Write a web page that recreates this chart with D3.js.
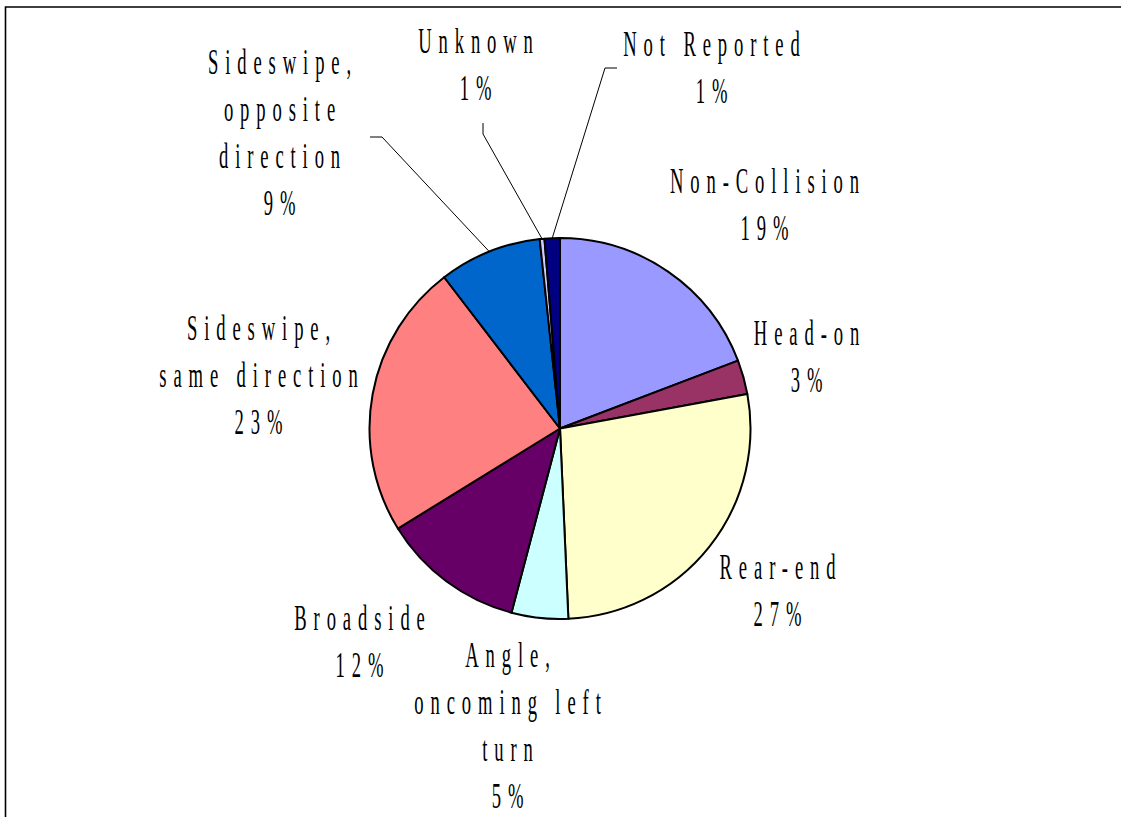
<!DOCTYPE html>
<html>
<head>
<meta charset="utf-8">
<script src="https://cdn.jsdelivr.net/npm/d3@7"></script>
<style>
  html, body { margin: 0; padding: 0; background: #fff; }
  svg { display: block; }
</style>
</head>
<body>
<svg id="chart" width="1121" height="817"></svg>
<script>
// ---- Data ----
const categories = ["Non-Collision", "Head-on", "Rear-end", "Angle, oncoming left turn", "Broadside",
  "Sideswipe, same direction", "Sideswipe, opposite direction", "Unknown", "Not Reported"];
const values = [19.2, 2.9, 27.2, 4.8, 12.1, 23.4, 8.7, 0.4, 1.3];
const percentLabels = ["19%", "3%", "27%", "5%", "12%", "23%", "9%", "1%", "1%"];
const labelLines = [
  ["Non-Collision"], ["Head-on"], ["Rear-end"], ["Angle,", "oncoming left", "turn"], ["Broadside"],
  ["Sideswipe,", "same direction"], ["Sideswipe,", "opposite", "direction"], ["Unknown"], ["Not Reported"]
];
const colors = ["#9999ff", "#993366", "#ffffcc", "#ccffff", "#660066", "#ff8080", "#0066cc", "#ccccff", "#000080"];

// ---- Layout (label placement) ----
const labelPos = [
  {x: 768, y: 193}, {x: 810, y: 345}, {x: 781, y: 579}, {x: 511, y: 667}, {x: 363, y: 630},
  {x: 262, y: 340}, {x: 283, y: 74}, {x: 479, y: 53}, {x: 715, y: 56}
];
// leader line starting points (near label), for the slices that have one
const leaders = {
  6: [[370, 137], [382, 137]],
  7: [[483, 123], [483, 134]],
  8: [[617, 68], [605, 68]]
};

const W = 1121, H = 817;
const cx = 560, cy = 428.5, R = 190.5;
const fontSize = 36.5, lineH = 47, sx = 0.51, spacing = 13.5;

const svg = d3.select("#chart");

// frame
svg.append("path")
  .attr("d", `M5.5,${H} L5.5,7 L${W},7`)
  .attr("fill", "none").attr("stroke", "#000").attr("stroke-width", 1.6);

const data = categories.map((c, i) => ({name: c, value: values[i], i}));
const pie = d3.pie().sort(null).value(d => d.value);
const arcs = pie(data);
const arc = d3.arc().innerRadius(0).outerRadius(R);
const edgeArc = d3.arc().innerRadius(R).outerRadius(R);

const g = svg.append("g").attr("transform", `translate(${cx},${cy})`);
g.selectAll("path.slice").data(arcs).enter().append("path")
  .attr("class", "slice")
  .attr("d", arc)
  .attr("fill", d => colors[d.data.i])
  .attr("stroke", "#000").attr("stroke-width", 2).attr("stroke-linejoin", "round");

// leader lines
const line = d3.line();
Object.keys(leaders).forEach(k => {
  const a = arcs[+k];
  const c = edgeArc.centroid(a);
  const pts = leaders[k].concat([[cx + c[0], cy + c[1]]]);
  svg.append("path").attr("d", line(pts))
    .attr("fill", "none").attr("stroke", "#000").attr("stroke-width", 1);
});

// labels
data.forEach((d, i) => {
  const lines = labelLines[i].concat([percentLabels[i]]);
  const p = labelPos[i];
  lines.forEach((t, j) => {
    svg.append("text")
      .attr("transform", `translate(${p.x},${p.y + j * lineH}) scale(${sx},1)`)
      .attr("text-anchor", "middle")
      .attr("font-family", "'Liberation Serif', 'DejaVu Serif', serif")
      .attr("font-size", fontSize)
      .attr("letter-spacing", spacing)
      .attr("fill", "#000")
      .text(t);
  });
});
</script>
</body>
</html>
